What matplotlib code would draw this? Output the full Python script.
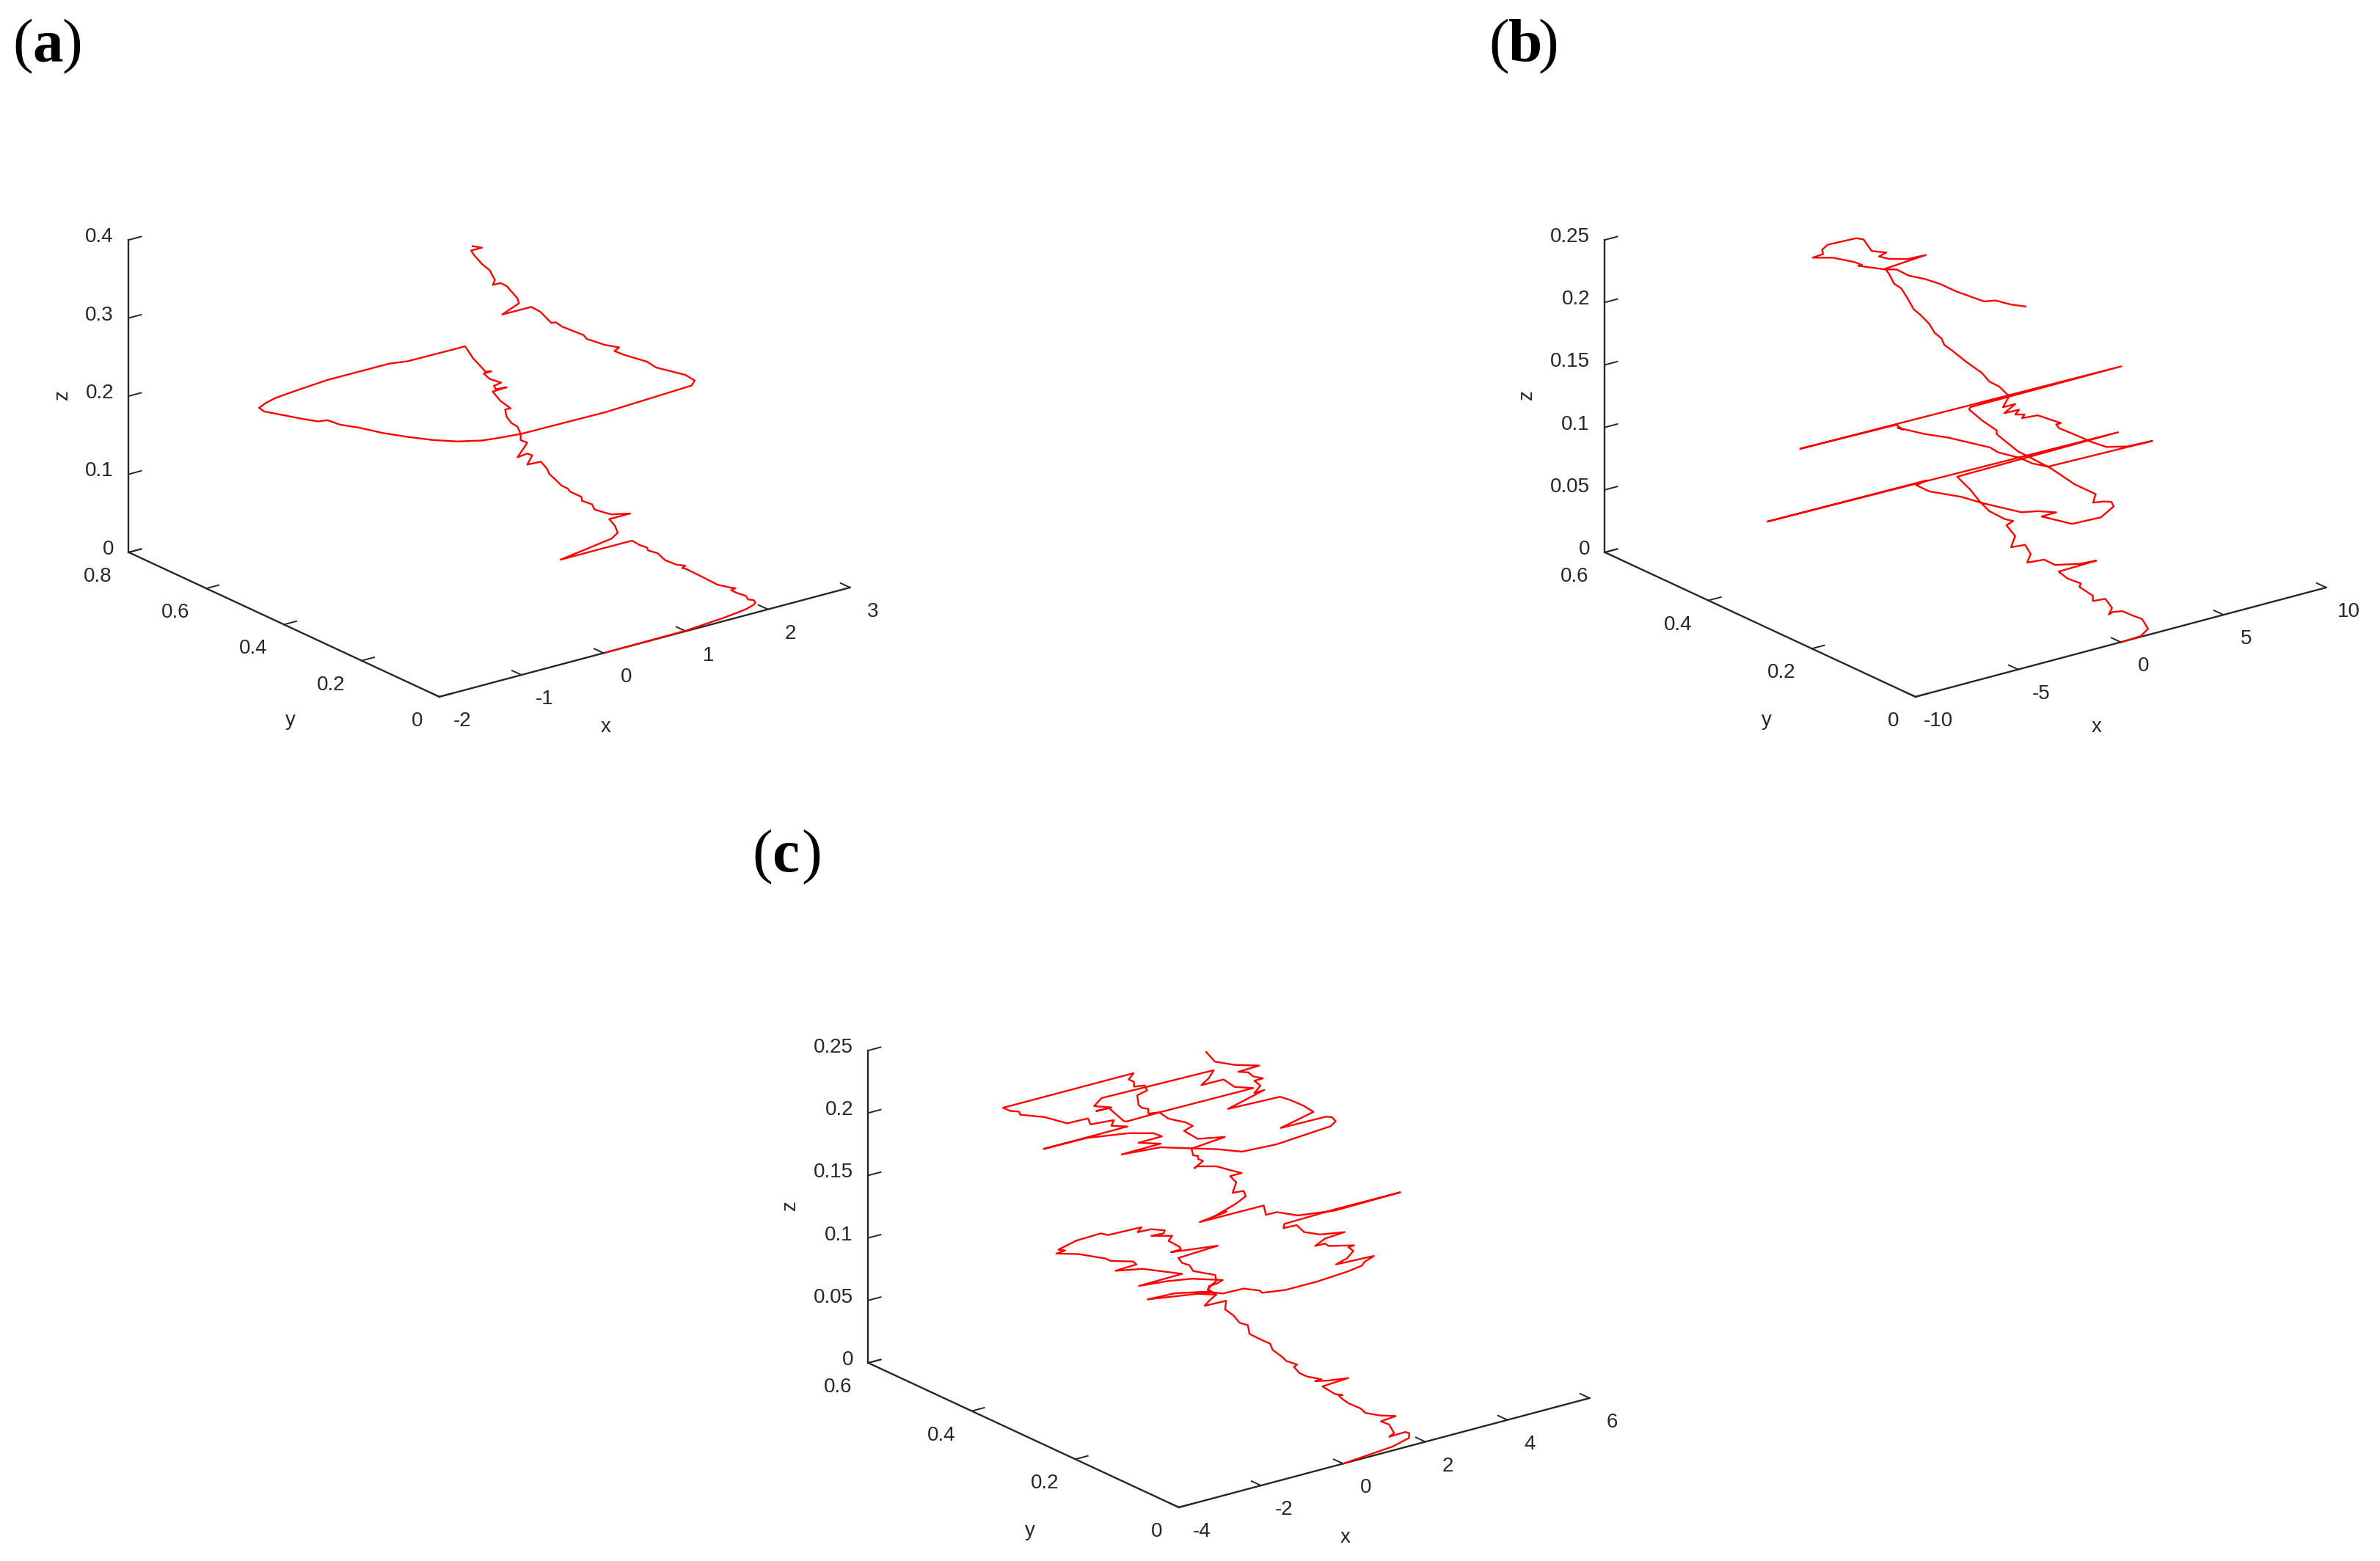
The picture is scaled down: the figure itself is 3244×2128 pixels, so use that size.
import matplotlib
matplotlib.use('Agg')
import matplotlib.pyplot as plt
import numpy as np
from mpl_toolkits.mplot3d import proj3d

plt.rcParams['font.family'] = ['Liberation Sans', 'DejaVu Sans']
plt.rcParams['axes.unicode_minus'] = False

W, H = 3244, 2128
DPI = 200

# x, y, z
traj_a = np.array([
    [0.03, 0, 0], [1.0, 0, .0007], [1.46, 0, .0042], [1.73, 0, .0076], [1.824, 0, .0106], [1.848, 0, .013],
    [1.85, .005, .015], [1.85, .019, .0124], [1.85, .025, .0157], [1.85, .05, .014], [1.85, .063, .0142],
    [1.85, .052, .0193], [1.85, .063, .0173], [1.85, .098, .0131], [1.85, .119, .0136], [1.85, .145, .0142],
    [1.85, .179, .0146], [1.85, .189, .0134], [1.85, .181, .0182], [1.85, .204, .0143], [1.85, .233, .0133],
    [1.85, .252, .0177], [1.85, .277, .0157], [1.85, .28, .0187], [1.85, .299, .0175], [1.85, .318, .0187],
    [.98, .318, .0187], [1.85, .371, .009], [1.85, .355, .0202], [1.85, .362, .0274], [1.85, .377, .0326],
    [2.106, .377, .0326], [1.85, .371, .04], [1.85, .39, .0381], [1.85, .415, .0362], [1.85, .421, .0413],
    [1.85, .447, .0398], [1.85, .448, .0445], [1.85, .478, .0445], [1.85, .483, .047], [1.85, .5, .0472],
    [1.85, .513, .0506], [1.85, .531, .0547], [1.85, .538, .0605], [1.85, .553, .0654], [1.85, .588, .0536],
    [1.85, .575, .0684], [1.85, .588, .0677], [1.85, .613, .0572], [1.85, .598, .0717], [1.85, .588, .0818],
    [1.85, .605, .0809], [1.85, .605, .0887], [1.85, .613, .0963], [1.85, .629, .0974], [1.85, .641, .1025],
    [1.85, .645, .111], [1.85, .631, .1156], [1.85, .657, .1192], [1.85, .677, .1265], [1.85, .641, .1404],
    [1.85, .669, .1314], [1.85, .674, .1346], [1.85, .655, .143], [1.85, .685, .1409], [1.85, .7, .1442],
    [1.85, .681, .1515], [1.85, .696, .1476], [1.85, .704, .1504], [1.85, .728, .1576], [1.85, .736, .162],
    [1.85, .748, .168],
    [1.153, .748, .1685], [.927, .748, .1717], [.176, .748, .1719], [-.2, .748, .169], [-.463, .748, .1665],
    [-.576, .748, .1634], [-.659, .748, .1594], [-.595, .748, .153], [-.125, .748, .1303], [.0625, .748, .1219],
    [.176, .748, .1203], [.326, .748, .1104], [.552, .748, .1003], [.852, .748, .0849], [1.153, .748, .0715],
    [1.454, .748, .0592], [1.754, .748, .0489], [2.054, .748, .0417], [2.28, .748, .0391], [2.524, .748, .0369],
    [.878, .4, .1634], [1.911, .4, .1624], [2.963, .4, .1672], [3.0, .4, .1725], [2.888, .4, .1828],
    [2.606, .4, .1982], [2.531, .4, .2023], [2.419, .4, .2129], [2.137, .4, .2297], [2.024, .4, .2376],
    [2.08, .4, .2407], [1.911, .4, .2485], [1.686, .4, .2626], [1.648, .4, .2685], [1.385, .4, .2868],
    [1.31, .4, .2943], [1.254, .4, .2952], [1.122, .4, .313],
    [2.429, .7, .2134], [2.076, .7, .2136], [2.279, .7, .2223], [2.26, .7, .2291], [2.129, .7, .2485],
    [2.054, .7, .2544], [1.959, .7, .2548], [1.986, .7, .2603], [1.921, .7, .2747], [1.828, .7, .2852],
    [1.734, .7, .2988], [1.696, .7, .306], [1.828, .7, .3061], [1.714, .7, .3112],
])

traj_b = np.array([
    [.07, 0, 0], [.97, 0, .0006], [1.33, 0, .0049], [1.03, 0, .0141], [.61, 0, .0184], [.07, 0, .0245],
    [0, .016, .021], [0, .023, .0177], [0, .017, .0242], [0, .03, .0289], [0, .054, .0225], [0, .054, .0268],
    [0, .08, .0288], [0, .077, .0321], [0, .103, .0311], [0, .12, .0333], [1.83, .12, .0341], [1.02, .12, .0351],
    [0, .127, .0373], [0, .148, .0375], [0, .181, .0288], [0, .174, .037], [0, .185, .0422], [0, .212, .0351],
    [0, .204, .0456], [0, .221, .0509], [0, .208, .0569], [0, .224, .0553], [0, .254, .0559], [0, .273, .0602],
    [0, .29, .0658], [0, .316, .0715],
    [7.83, .316, .0728], [-9.25, .316, .076], [-1.48, .316, .0751], [-1.99, .316, .0734], [-1.36, .316, .0657],
    [.19, .316, .0546], [1.22, .316, .0451], [1.86, .316, .0398], [3.14, .316, .0293], [3.92, .316, .0268],
    [4.82, .316, .0219], [4.11, .316, .0217], [5.59, .316, .0093], [7, .316, .0084], [7.62, .316, .0144],
    [7.51, .316, .0185], [7.13, .316, .0205], [6.62, .316, .0218], [6.74, .316, .0281], [5.72, .316, .0404],
    [4.56, .316, .0583], [3.53, .316, .0716], [2.95, .316, .079], [1.92, .316, .0972], [1.92, .316, .1002],
    [1.22, .316, .1111], [.58, .316, .1228], [.64, .316, .1244], [7.99, .316, .1249], [-7.65, .316, .1273],
    [-2.96, .316, .126], [-2.64, .316, .1207], [-2.9, .316, .1234], [-1.61, .316, .1128], [-.45, .316, .1048],
    [1.6, .316, .0879], [1.99, .316, .0823], [3.02, .316, .0735], [3.66, .316, .0661], [4.43, .316, .0602],
    [9.5, .316, .0586], [8.28, .316, .0595], [7.26, .316, .0636], [6.49, .316, .0712], [6.1, .316, .0759],
    [4.95, .316, .0888], [4.82, .316, .0923], [5.05, .316, .0923], [3.92, .316, .1035], [3.15, .316, .1046],
    [3.28, .316, .1069], [2.83, .316, .1089], [3.01, .316, .112], [2.29, .316, .1123], [2.83, .316, .1173],
    [2.23, .316, .1174], [2.53, .316, .1249],
    [0, .235, .1593], [0, .254, .1596], [0, .268, .1637], [0, .301, .1671], [0, .325, .1705], [0, .341, .1722],
    [0, .346, .1762], [0, .36, .1784], [0, .37, .1834], [0, .386, .1871], [0, .4, .1893], [0, .412, .1958],
    [0, .424, .2014], [0, .438, .2025], [0, .448, .2086], [0, .455, .2112], [1.98, .455, .2135], [1.08, .455, .2142],
    [0, .448, .2204], [0, .467, .2187], [0, .453, .2245], [0, .481, .2203], [0, .497, .2265], [0, .511, .2248],
    [0, .566, .209], [0, .577, .2029], [0, .575, .1998], [-.51, .575, .1991], [0, .556, .2005], [0, .514, .2051],
    [0, .5, .2055], [0, .507, .2035], [0, .457, .2103], [0, .433, .2148], [0, .41, .2144], [0, .377, .2178],
    [0, .349, .2194], [0, .318, .2194], [0, .264, .2218], [0, .242, .2268], [0, .212, .2293], [0, .184, .2332],
])

traj_c = np.array([
    [0, 0, 0], [1.2, 0, .0031], [1.6, 0, .0065], [1.61, 0, .0103], [1.51, 0, .0121], [1.12, 0, .0117],
    [1.24, 0, .0136], [1.12, 0, .0215], [.92, 0, .0258], [1.28, 0, .0269], [.88, 0, .0309], [.54, 0, .0359],
    [.43, 0, .0403], [.13, 0, .0472], [0, .002, .0515], [0, .009, .0531], [.1, .009, .0522], [0, .016, .0527],
    [0, .04, .0541], [.63, .04, .0553], [.15, .04, .0575], [0, .054, .0556], [0, .042, .0594], [0, .07, .0563],
    [0, .084, .0562], [0, .095, .0591], [0, .089, .0621], [0, .11, .061], [0, .117, .0626], [0, .136, .0648],
    [0, .141, .0688], [0, .162, .0687], [0, .181, .069], [0, .184, .0753], [0, .2, .0742], [0, .212, .0778],
    [0, .228, .0795], [0, .226, .0868], [0, .267, .0749],
    [.41, .3, .065], [.52, .3, .068], [.69, .3, .0714], [.49, .3, .0771], [.52, .3, .0798], [.7, .3, .0801],
    [.85, .3, .0817], [.1, .3, .0893], [-.5, .3, .0926], [-1.19, .3, .0948], [-.14, .3, .0953], [-.38, .3, .0984],
    [-1.1, .3, .1077], [-1.76, .3, .1119], [-1.25, .3, .1126], [-1.34, .3, .1157], [-1.88, .3, .1209],
    [-2, .3, .1238], [-2.66, .3, .1332], [-3.2, .3, .1383], [-2.99, .3, .139], [-3.15, .3, .141], [-2.72, .3, .1444],
    [-2.12, .3, .145], [-1.94, .3, .1421], [-1.13, .3, .1413], [-1.22, .3, .1381], [-.89, .3, .1376], [-.56, .3, .1338],
    [-.59, .3, .1316], [-.89, .3, .1323], [-.38, .3, .1278], [-.47, .3, .1246], [-.2, .3, .1174], [-.17, .3, .1152],
    [-.41, .3, .115], [.73, .3, .1102], [-.23, .3, .1088], [-.14, .3, .1041], [.04, .3, .1006], [.13, .3, .0952],
    [.34, .3, .0921], [.67, .3, .0873], [.69, .3, .0822], [.58, .3, .0802], [.49, .3, .0771], [.69, .3, .0714],
    [.28, .3, .0756], [.58, .3, .0743], [-.98, .3, .0822], [-.32, .3, .0813], [.46, .3, .0758], [.85, .3, .0709],
    [1.36, .3, .0704], [1.75, .3, .0654], [1.81, .3, .0631], [2.38, .3, .0604], [3.16, .3, .0604], [3.88, .3, .0619],
    [4.24, .3, .0636], [4.3, .3, .066], [4.53, .3, .0688], [3.61, .3, .0701], [3.88, .3, .0727], [4.03, .3, .0772],
    [3.91, .3, .0812], [4.05, .3, .0815], [3.43, .3, .0864], [3.34, .3, .0891], [3.1, .3, .0893], [3.34, .3, .0931],
    [3.82, .3, .0941], [3.22, .3, .0974], [2.83, .3, .1028], [2.65, .3, .1099], [2.33, .3, .1103], [2.35, .3, .1135],
    [3.58, .3, .1144], [5.17, .3, .1141], [3.58, .3, .1134], [2.68, .3, .1174], [2.17, .3, .1245], [1.9, .3, .1247],
    [1.85, .3, .1326], [.29, .3, .133], [.94, .3, .1357], [.64, .3, .1344], [1.15, .3, .1397], [1.41, .3, .1438],
    [1.36, .3, .1486], [1.09, .3, .1494], [1.18, .3, .157], [1.03, .3, .1633], [1.31, .3, .1633], [1.03, .3, .1681],
    [.7, .3, .174], [.22, .3, .1782], [.16, .3, .1772], [.37, .3, .1812], [.25, .3, .1838], [.25, .3, .1862],
    [.13, .3, .1878], [.09, .3, .1937],
    [2, .45, .1481], [1.23, .45, .1557], [.28, .45, .1583], [1.23, .45, .1586], [.69, .45, .164], [1.26, .45, .1642],
    [1.05, .45, .1686], [.45, .45, .1738], [-.57, .45, .1789], [-1.62, .45, .1793], [.42, .45, .1794], [.03, .45, .1834],
    [.09, .45, .1874], [-.48, .45, .189], [-.54, .45, .1943], [-1.05, .45, .1948], [-1.59, .45, .2045], [-2.19, .45, .2117],
    [-2.22, .45, .2144], [-2.43, .45, .2168], [-2.61, .45, .2209], [.57, .45, .2208], [.45, .45, .2168], [.58, .45, .2138],
    [.58, .45, .2099], [.84, .45, .2086], [.9, .45, .2041], [.66, .45, .2023], [.69, .45, .1943], [.78, .45, .1911],
    [.93, .45, .1891], [.93, .45, .1853], [1.2, .45, .1839], [.39, .45, .1836], [.33, .45, .1847], [.12, .45, .1924],
    [-.03, .45, .1982], [-.34, .45, .1984], [.03, .45, .1981], [-.39, .45, .2028], [-.21, .45, .2077], [2.52, .45, .2061],
    [2.4, .45, .2007], [2.22, .45, .1968], [2.76, .45, .1966], [3.03, .45, .1883], [3.48, .45, .1834], [1.2, .45, .1839],
    [1.41, .45, .1772], [1.59, .45, .1742], [1.83, .45, .1705], [2.01, .45, .166], [1.8, .45, .1639], [2.13, .45, .1546],
    [2.79, .45, .1503], [2, .45, .1481], [2.61, .45, .1421], [3.21, .45, .1349], [4.05, .45, .1334], [5.37, .45, .1364],
    [5.49, .45, .1393], [5.4, .45, .1434], [5.25, .45, .145], [4.15, .45, .1456], [4.95, .45, .1515], [4.71, .45, .1585],
    [4.41, .45, .1654], [4.14, .45, .1707], [2.87, .45, .1721], [3.75, .45, .1795], [3.51, .45, .1792], [3.66, .45, .1838],
    [3.51, .45, .189], [3.72, .45, .1891], [3.48, .45, .1928], [3.36, .45, .1971], [3.12, .45, .1996], [3.63, .45, .2001],
    [3.03, .45, .2059], [2.55, .45, .2127], [2.34, .45, .2222],
])

xticks_a = [-2, -1, 0, 1, 2, 3]
yticks_a = [0, 0.2, 0.4, 0.6, 0.8]
zticks_a = [0, 0.1, 0.2, 0.3, 0.4]
xticks_b = [-10, -5, 0, 5, 10]
yticks_b = [0, 0.2, 0.4, 0.6]
zticks_b = [0, 0.05, 0.1, 0.15, 0.2, 0.25]
xticks_c = [-4, -2, 0, 2, 4, 6]
yticks_c = yticks_b
zticks_c = zticks_b

AX_PX = 1060.0
DARK = '#262626'


def tick_text(ax, M, x, y, z, s, ha):
    # Text3D keeps data coords outside draw, so project it first
    px, py, _ = proj3d.proj_transform(x, y, z, M)
    ax.text2D(px, py, s, transform=ax.transData, fontsize=10, color=DARK, ha=ha, va='center')


def draw_panel(traj, xticks, yticks, zticks, dx, dy, letter, xlab_shift=0, zlab_shift=0):
    cx = 667 + dx
    cy = 564 + dy
    left = (cx - 0.5135 * AX_PX) / W
    bottom = (H - cy - 0.5135 * AX_PX) / H
    ax = fig.add_axes([left, bottom, AX_PX / W, AX_PX / H], projection='3d', proj_type='ortho')
    ax.patch.set_alpha(0)
    ax.view_init(elev=20.6, azim=-127.1)
    ax.set_box_aspect((702, 702, 455))
    ax.set_xlim(xticks[0], xticks[-1], view_margin=0)
    ax.set_ylim(yticks[0], yticks[-1], view_margin=0)
    ax.set_zlim(zticks[0], zticks[-1], view_margin=0)
    ax.plot(traj[:, 0], traj[:, 1], traj[:, 2], color='red', lw=0.85)

    ax.grid(False)
    ax.set_xticks(xticks)
    ax.set_yticks(yticks)
    ax.set_zticks(zticks)
    for axis in (ax.xaxis, ax.yaxis, ax.zaxis):
        axis.set_pane_color((1, 1, 1, 0))
        axis.pane.set_edgecolor((1, 1, 1, 0))
        axis.line.set_color(DARK)
        axis.line.set_linewidth(0.85)
        axis._axinfo['tick']['inward_factor'] = 0.0
        axis._axinfo['tick']['outward_factor'] = 0.38
        axis._axinfo['tick']['linewidth'] = {True: 0.7, False: 0.5}
        axis.set_tick_params(label1On=False, color=DARK)

    # tick labels sit off the axis the way matlab puts them
    M = ax.get_proj()
    xr = xticks[-1] - xticks[0]
    yr = yticks[-1] - yticks[0]
    zr = zticks[-1] - zticks[0]
    for t in xticks:
        tick_text(ax, M, t, yticks[0] - 0.0731 * yr, zticks[0] - 0.0439 * zr, str(t), 'center')
    for t in yticks:
        tick_text(ax, M, xticks[0] - 0.0402 * xr, t, zticks[0] - 0.0634 * zr, str(t), 'right')
    for t in zticks:
        tick_text(ax, M, xticks[0], yticks[-1] + 0.0483 * yr, t - 0.0129 * zr, str(t), 'right')

    # axis names
    ax.text2D((825.5 + dx + xlab_shift) / W, 1 - (991 + dy) / H, 'x', transform=fig.transFigure, fontsize=10,
              color=DARK, ha='center', va='center')
    ax.text2D((396 + dx) / W, 1 - (982 + dy) / H, 'y', transform=fig.transFigure, fontsize=10,
              color=DARK, ha='center', va='center')
    ax.text2D((85 + dx + zlab_shift) / W, 1 - (538 + dy) / H, 'z', transform=fig.transFigure, fontsize=10,
              color=DARK, ha='center', va='center', rotation=90)

    # panel letter
    fig.text((17 + dx) / W, 1 - (83 + dy) / H, '(', family='Liberation Serif', fontsize=30, va='baseline')
    fig.text((44 + dx) / W, 1 - (83 + dy) / H, letter, family='Liberation Serif', weight='bold', fontsize=30, va='baseline')
    fig.text((84 + dx) / W, 1 - (83 + dy) / H, ')', family='Liberation Serif', fontsize=30, va='baseline')
    return ax


fig = plt.figure(figsize=(W / DPI, H / DPI), dpi=DPI)
draw_panel(traj_a, xticks_a, yticks_a, zticks_a, 0, 0, 'a')
draw_panel(traj_b, xticks_b, yticks_b, zticks_b, 2012, 0, 'b', xlab_shift=20, zlab_shift=-16)
draw_panel(traj_c, xticks_c, yticks_c, zticks_c, 1008, 1105, 'c', zlab_shift=-16)

fig.savefig('out.png', dpi=DPI)
